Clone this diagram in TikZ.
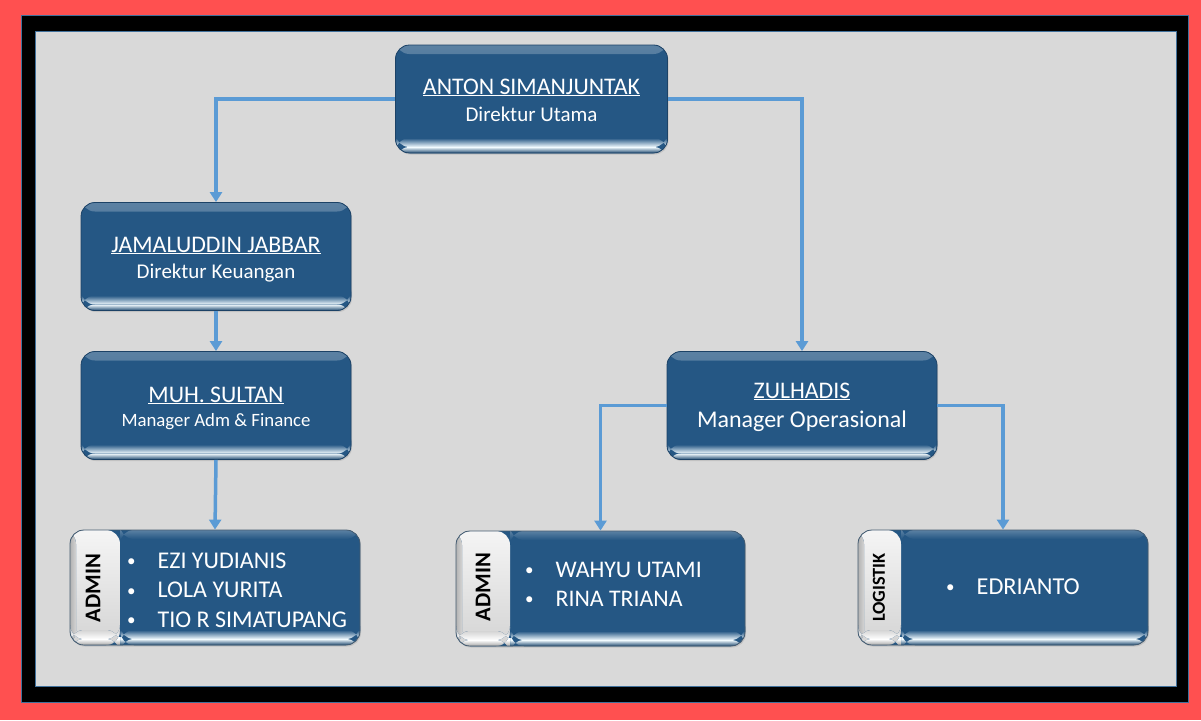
\documentclass[tikz,border=0pt]{standalone}
\usepackage{fontspec}
\setmainfont{Carlito}
\usetikzlibrary{arrows.meta,shadows}
\definecolor{redbg}{HTML}{FF5050}
\definecolor{panel}{HTML}{D9D9D9}
\definecolor{framebl}{HTML}{41719C}
\definecolor{boxblue}{HTML}{255784}
\definecolor{boxedge}{HTML}{1C4266}
\definecolor{hilite}{HTML}{F2FBFF}
\definecolor{conn}{HTML}{5B9BD5}
\definecolor{tabgrey}{HTML}{D4D4D4}
\newcommand{\smbul}{\raisebox{0.05em}{\fontsize{17}{17}\selectfont\textbullet}}
\begin{document}
\begin{tikzpicture}[x=1pt,y=-1pt,
  gloss/.style={
    path picture={
      \fill[top color=boxblue!75!white, bottom color=boxblue]
        (path picture bounding box.north west) rectangle ([yshift=-9pt]path picture bounding box.north east);
      \fill[top color=boxblue, bottom color=hilite]
        ([yshift=15pt]path picture bounding box.south west) rectangle ([yshift=6pt]path picture bounding box.south east);
      \fill[top color=hilite, bottom color=boxblue!85!black]
        ([yshift=6pt]path picture bounding box.south west) rectangle (path picture bounding box.south east);
    }},
  orgbox/.style={rounded corners=14pt, fill=boxblue, draw=boxedge, line width=0.8pt,
    inner sep=0pt, minimum width=270pt, minimum height=108pt, gloss,
    drop shadow={opacity=0.25, shadow xshift=1pt, shadow yshift=-1.5pt}},
  listbox/.style={rounded corners=14pt, fill=boxblue, draw=boxedge!60!gray, line width=0.8pt,
    inner sep=0pt, minimum width=290pt, minimum height=115pt,
    drop shadow={opacity=0.25, shadow xshift=1pt, shadow yshift=-1.5pt},
    path picture={
      \fill[top color=white!92!gray, bottom color=tabgrey]
        (path picture bounding box.north west) rectangle ([xshift=#1]path picture bounding box.south west);
      \fill[left color=gray!60, right color=tabgrey]
        (path picture bounding box.north west) rectangle ([xshift=6pt]path picture bounding box.south west);
      \fill[top color=boxblue!75!white, bottom color=boxblue]
        ([xshift=#1]path picture bounding box.north west) rectangle ([yshift=-9pt]path picture bounding box.north east);
      \fill[top color=tabgrey, bottom color=white]
        ([yshift=15pt]path picture bounding box.south west) rectangle ([xshift=#1,yshift=6pt]path picture bounding box.south west);
      \fill[top color=boxblue, bottom color=hilite]
        ([xshift=#1,yshift=15pt]path picture bounding box.south west) rectangle ([yshift=6pt]path picture bounding box.south east);
      \fill[top color=hilite, bottom color=boxblue!85!black]
        ([xshift=#1,yshift=6pt]path picture bounding box.south west) rectangle (path picture bounding box.south east);
      \fill[top color=white, bottom color=gray!70]
        ([yshift=6pt]path picture bounding box.south west) rectangle ([xshift=#1]path picture bounding box.south west);
    }},
  nametext/.style={text=white, inner sep=0pt, anchor=base, font=\fontsize{23.8}{28}\selectfont},
  subtext/.style={text=white, inner sep=0pt, anchor=base, font=\fontsize{21}{25}\selectfont},
  smalltext/.style={text=white, inner sep=0pt, anchor=base, font=\fontsize{18.8}{22}\selectfont},
  bigsub/.style={text=white, inner sep=0pt, anchor=base, font=\fontsize{24}{28}\selectfont},
  listtext/.style={text=white, inner sep=0pt, anchor=base west, align=left},
  tabtext/.style={text=black, inner sep=0pt, rotate=90, font=\bfseries\fontsize{22.5}{26}\selectfont},
  conline/.style={draw=conn, line width=3.5pt, -{Triangle[width=12pt,length=10pt]}}
]
\useasboundingbox (0,0) rectangle (1201,720);
% background frames
\fill[redbg] (0,0) rectangle (1201,720);
\filldraw[fill=black, draw=framebl, line width=0.8pt] (21,15) rectangle (1188,702);
\filldraw[fill=panel, draw=framebl, line width=0.8pt] (35,31) rectangle (1176,686);

% boxes
\node[orgbox, minimum width=272pt] (anton) at (531.5,99) {};
\node[orgbox] (jamal) at (216,256.5) {};
\node[orgbox] (sultan) at (216,405.5) {};
\node[orgbox] (zul) at (802,405.5) {};
\node[listbox=50pt] (adm1) at (215,587.5) {};
\node[listbox=54pt, minimum width=289pt] (adm2) at (600.5,588.5) {};
\node[listbox=43pt] (logi) at (1003,587.5) {};

% texts
\node[nametext] (antonN) at (531.5,94) {\underline{ANTON SIMANJUNTAK}};
\node[subtext] (antonS) at (531.5,121) {Direktur Utama};
\node[nametext] (jamalN) at (216,252) {\underline{JAMALUDDIN JABBAR}};
\node[subtext] (jamalS) at (216,278) {Direktur Keuangan};
\node[nametext] (sultanN) at (216,402) {\underline{MUH. SULTAN}};
\node[smalltext] (sultanS) at (216,426) {Manager Adm \& Finance};
\node[nametext] (zulN) at (802,398) {\underline{ZULHADIS}};
\node[bigsub] (zulS) at (802,427) {Manager Operasional};

\node[tabtext] (adm1T) at (93,588) {ADMIN};
\node[tabtext] (adm2T) at (483,587) {ADMIN};
\node[tabtext, font=\bfseries\fontsize{18.3}{22}\selectfont] (logiT) at (879,587.5) {LOGISTIK};

\node[listtext, font=\fontsize{24}{29.5}\selectfont] (adm1L) at (127,568)
  {\begin{tabular}[t]{@{}l@{\hspace{22pt}}l@{}}\smbul & EZI YUDIANIS\\ \smbul & LOLA YURITA\\ \smbul & TIO R SIMATUPANG\end{tabular}};
\node[listtext, font=\fontsize{23.8}{29}\selectfont] (adm2L) at (525,577)
  {\begin{tabular}[t]{@{}l@{\hspace{22pt}}l@{}}\smbul & WAHYU UTAMI\\ \smbul & RINA TRIANA\end{tabular}};
\node[listtext, font=\fontsize{24.3}{29}\selectfont] (logiL) at (946,594)
  {\smbul\hspace{22pt}EDRIANTO};

% connectors
\draw[conline] (anton.west) -| (jamal.north);
\draw[conline] (anton.east) -| (zul.north);
\draw[conline] (jamal.south) -- (sultan.north);
\draw[conline] (sultan.south) -- (adm1.north);
\draw[conline] (zul.west) -| (adm2.north);
\draw[conline] (zul.east) -| (logi.north);
\end{tikzpicture}
\end{document}
